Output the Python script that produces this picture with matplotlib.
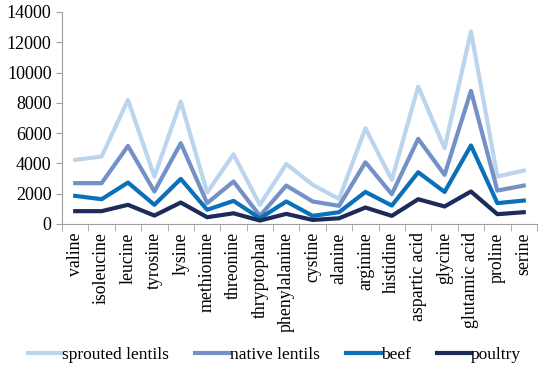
import matplotlib
matplotlib.use("Agg")
from matplotlib import pyplot as plt
import numpy as np

amino = ["valine", "isoleucine", "leucine", "tyrosine", "lysine", "methionine",
         "threonine", "thryptophan", "phenylalanine", "cystine", "alanine",
         "arginine", "histidine", "aspartic acid", "glycine", "glutamic acid",
         "proline", "serine"]

sprouted = [4230, 4450, 8190, 3130, 8080, 2070, 4600, 1250, 3960, 2580, 1650,
            6320, 2910, 9070, 5000, 12710, 3130, 3520]
native = [2690, 2690, 5150, 2140, 5330, 1370, 2800, 530, 2530, 1480, 1190,
          4070, 1960, 5620, 3240, 8790, 2200, 2530]
beef = [1850, 1630, 2730, 1260, 2970, 930, 1520, 370, 1480, 530, 770,
        2110, 1210, 3410, 2110, 5180, 1370, 1540]
poultry = [840, 840, 1260, 550, 1410, 440, 700, 220, 660, 260, 370,
           1080, 530, 1630, 1150, 2140, 640, 770]

plt.rcParams['font.family'] = ['Liberation Serif', 'DejaVu Serif']

fig = plt.figure(figsize=(5.49, 3.86), dpi=100)
ax = fig.add_axes([0.113, 0.42, 0.865, 0.549])

x = np.arange(len(amino))
ax.plot(x, sprouted, color="#bcd5ef", lw=3, label="sprouted lentils")
ax.plot(x, native, color="#7391c6", lw=3, label="native lentils")
ax.plot(x, beef, color="#0a70b8", lw=3, label="beef")
ax.plot(x, poultry, color="#1c2b5a", lw=3, label="poultry")

ax.set_xlim(-0.5, len(amino) - 0.5)
ax.set_ylim(0, 14000)
ax.set_yticks(range(0, 14001, 2000))
ax.set_xticks(x)
ax.set_xticklabels(amino, rotation=90, fontsize=12.8)
ax.set_xticks(np.arange(-0.5, len(amino), 1), minor=True)
ax.tick_params(axis='x', which='major', length=0, pad=6)
ax.tick_params(axis='x', which='minor', length=5, color="#a0a0a0")
ax.tick_params(axis='y', length=4, color="#a0a0a0", labelsize=13)

for s in ["top", "right"]:
    ax.spines[s].set_visible(False)
for s in ["left", "bottom"]:
    ax.spines[s].set_color("#a0a0a0")

fig.legend(loc="center", bbox_to_anchor=(0.5, 0.08), ncol=4, frameon=False,
           fontsize=12.5, handlelength=2.0, handletextpad=0.0, columnspacing=1.5)

fig.savefig("out.png", dpi=100)
